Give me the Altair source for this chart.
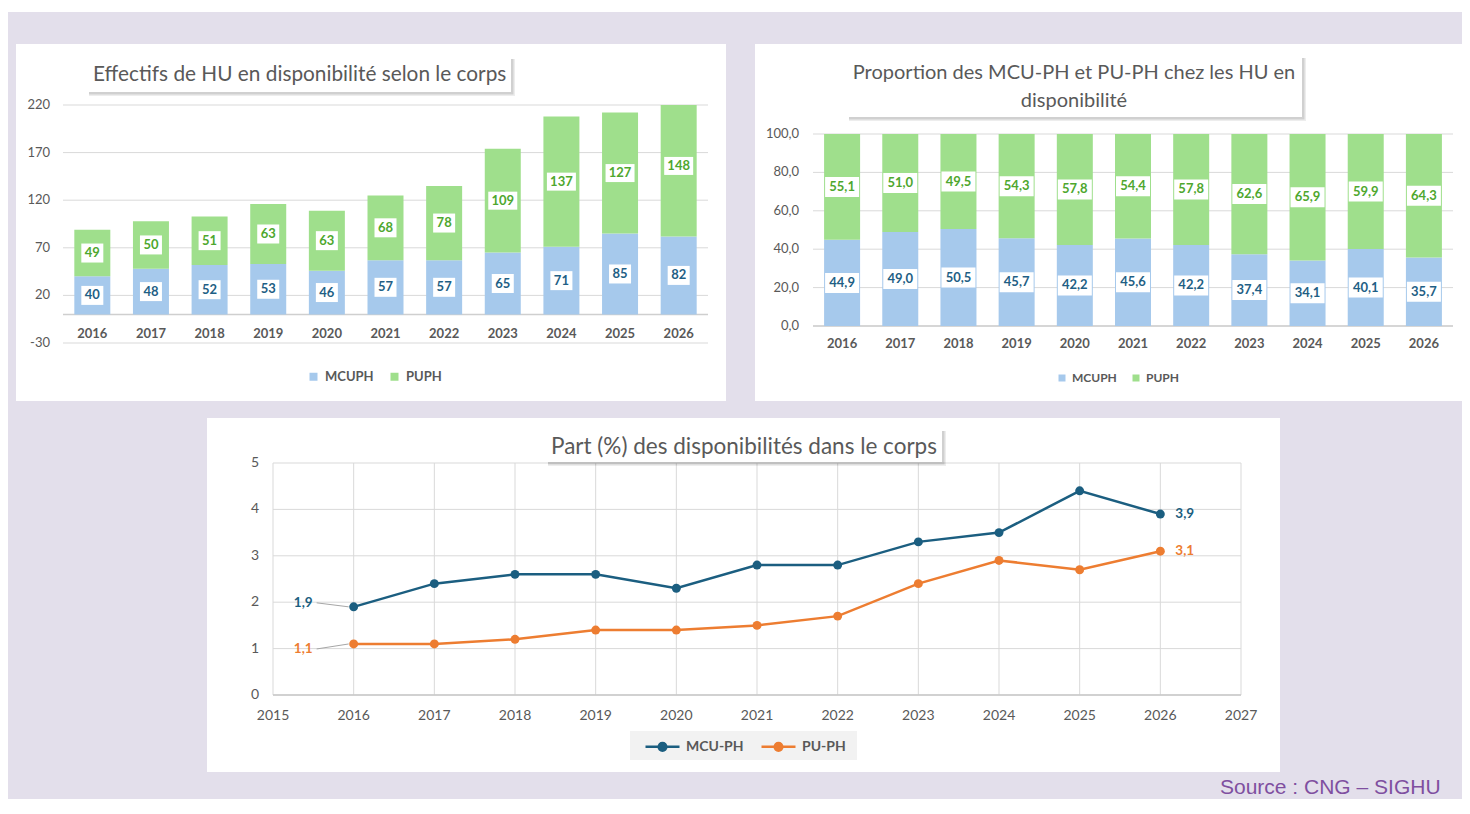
import altair as alt
import pandas as pd

# ---------------- data ----------------
years = [2016, 2017, 2018, 2019, 2020, 2021, 2022, 2023, 2024, 2025, 2026]
mcuph_effectif = [40, 48, 52, 53, 46, 57, 57, 65, 71, 85, 82]
puph_effectif = [49, 50, 51, 63, 63, 68, 78, 109, 137, 127, 148]
mcuph_pct = [44.9, 49.0, 50.5, 45.7, 42.2, 45.6, 42.2, 37.4, 34.1, 40.1, 35.7]
puph_pct = [55.1, 51.0, 49.5, 54.3, 57.8, 54.4, 57.8, 62.6, 65.9, 59.9, 64.3]
mcuph_part = [1.9, 2.4, 2.6, 2.6, 2.3, 2.8, 2.8, 3.3, 3.5, 4.4, 3.9]
puph_part = [1.1, 1.1, 1.2, 1.4, 1.4, 1.5, 1.7, 2.4, 2.9, 2.7, 3.1]
series_bar = ["MCUPH", "PUPH"]
series_line = ["MCU-PH", "PU-PH"]
ticks_a = [-30, 20, 70, 120, 170, 220]
ticks_b = [0, 20, 40, 60, 80, 100]
ticks_c_y = [0, 1, 2, 3, 4, 5]
ticks_c_x = [2015, 2016, 2017, 2018, 2019, 2020, 2021, 2022, 2023, 2024, 2025, 2026, 2027]
title_a = "Effectifs de HU en disponibilité selon le corps"
title_b = ["Proportion des MCU-PH et PU-PH chez les HU en", "disponibilité"]
title_c = "Part (%) des disponibilités dans le corps"
source_text = "Source : CNG – SIGHU"

# ---------------- style ----------------
FONT = "Lato"
GRAY = "#595959"
GRID = "#d9d9d9"
LAV = "#e3dfeb"
BLUE_BAR = "#a6c9ec"
GREEN_BAR = "#9fdf8c"
BLUE_TXT = "#1f5f85"
GREEN_TXT = "#4ea72e"
MCU_LINE = "#1b5e80"
PU_LINE = "#ed7d31"
W, H = 1454, 791


def fr1(v):
    return f"{v:.1f}".replace(".", ",")


def stacked(a, b, fmt):
    rows = []
    for y, va, vb in zip(years, a, b):
        rows.append(dict(year=y, series=series_bar[0], val=va, mid=va / 2, label=fmt(va)))
        rows.append(dict(year=y, series=series_bar[1], val=vb, mid=va + vb / 2, label=fmt(vb)))
    return pd.DataFrame(rows)


_one = pd.DataFrame({"k": [0]})


def rect(x1, y1, x2, y2, color, opacity=1.0):
    return alt.Chart(_one).mark_rect(color=color, opacity=opacity).encode(
        x=alt.value(x1), x2=alt.value(x2), y=alt.value(y1), y2=alt.value(y2))


def text(txt, x, y, size, color, align="left", weight="normal", font=FONT):
    return alt.Chart(_one).mark_text(text=txt, align=align, baseline="middle", fontSize=size,
                                     color=color, fontWeight=weight, font=font).encode(
        x=alt.value(x), y=alt.value(y))


def title_box(x1, y1, x2, y2):
    return [rect(x1 + 1, y1 + 1, x2 + 4, y2 + 4, "#000000", 0.07),
            rect(x1 + 1, y1 + 1, x2 + 2.5, y2 + 2.5, "#000000", 0.12),
            rect(x1, y1, x2, y2, "white")]


def bar_panel(df, xdom, xrange, ydom, yrange, ticks, tick_labels, ylab_dx, year_dy,
              boxes, legend, clamp=False):
    xs = alt.Scale(domain=xdom, range=xrange, nice=False, zero=False, padding=0)
    ys = alt.Scale(domain=ydom, range=yrange, nice=False, zero=False, clamp=clamp, padding=0)
    X = alt.X("year:Q", scale=xs, axis=None)
    layers = []
    layers.append(alt.Chart(pd.DataFrame({"v": ticks})).mark_rule(color=GRID, strokeWidth=1).encode(
        x=alt.XDatum(xdom[0], scale=xs, axis=None), x2=alt.X2Datum(xdom[1]),
        y=alt.Y("v:Q", scale=ys, axis=None)))
    layers.append(alt.Chart(_one).mark_rule(color="#cfcfcf", strokeWidth=1.5).encode(
        x=alt.XDatum(xdom[0], scale=xs, axis=None), x2=alt.X2Datum(xdom[1]),
        y=alt.YDatum(0, scale=ys, axis=None)))
    layers.append(alt.Chart(df).mark_bar(size=36).encode(
        x=X,
        y=alt.Y("val:Q", scale=ys, axis=None, stack="zero"),
        color=alt.Color("series:N", scale=alt.Scale(domain=series_bar, range=[BLUE_BAR, GREEN_BAR]),
                        legend=legend),
        order=alt.Order("series:N", sort="ascending")))
    for expr, w, h in boxes:
        layers.append(alt.Chart(df).transform_filter(expr).mark_rect(
            color="white", xOffset=-w / 2, x2Offset=w / 2, yOffset=-h / 2, y2Offset=h / 2).encode(
            x=X, x2=alt.X2("year"), y=alt.Y("mid:Q", scale=ys, axis=None), y2=alt.Y2("mid")))
    for s, c in zip(series_bar, [BLUE_TXT, GREEN_TXT]):
        layers.append(alt.Chart(df).transform_filter(alt.datum.series == s).mark_text(
            font=FONT, fontSize=13, fontWeight="bold", color=c, baseline="middle").encode(
            x=X, y=alt.Y("mid:Q", scale=ys, axis=None), text="label:N"))
    layers.append(alt.Chart(pd.DataFrame({"year": years})).mark_text(
        font=FONT, fontSize=13, fontWeight="bold", color=GRAY, dy=year_dy, baseline="middle").encode(
        x=X, y=alt.YDatum(0, scale=ys, axis=None), text="year:N"))
    layers.append(alt.Chart(pd.DataFrame({"v": ticks, "t": tick_labels})).mark_text(
        font=FONT, fontSize=13, color=GRAY, align="right", baseline="middle", dx=ylab_dx).encode(
        x=alt.XDatum(xdom[0], scale=xs, axis=None), y=alt.Y("v:Q", scale=ys, axis=None), text="t:N"))
    return alt.layer(*layers)


# ---------------- panel A ----------------
df_a = stacked(mcuph_effectif, puph_effectif, lambda v: str(v))
leg_a = alt.Legend(orient="none", legendX=299, legendY=362, direction="horizontal", title=None,
                   symbolType="square", symbolSize=64, symbolStrokeWidth=0, labelFont=FONT,
                   labelFontSize=13, labelFontWeight="bold", labelColor=GRAY, columnPadding=14,
                   labelOffset=5, padding=0)
panel_a = bar_panel(df_a, [2015.5, 2026.5], [55, 700], [-30, 220], [335, 97], ticks_a,
                    [str(t) for t in ticks_a], -13, 20,
                    [("length(datum.label) <= 2", 22, 19), ("length(datum.label) > 2", 29, 18)],
                    leg_a, clamp=True)

# ---------------- panel B ----------------
df_b = stacked(mcuph_pct, puph_pct, fr1)
leg_b = alt.Legend(orient="none", legendX=1048, legendY=364, direction="horizontal", title=None,
                   symbolType="square", symbolSize=49, symbolStrokeWidth=0, labelFont=FONT,
                   labelFontSize=12, labelFontWeight="bold", labelColor=GRAY, columnPadding=13,
                   labelOffset=4, padding=0)
panel_b = bar_panel(df_b, [2015.5, 2026.5], [805, 1445], [0, 100], [318, 126], ticks_b,
                    [fr1(t) for t in ticks_b], -14, 18,
                    [("true", 34, 20)], leg_b)

# ---------------- panel C ----------------
part = pd.DataFrame({
    "year": years * 2,
    "series": [series_line[0]] * len(years) + [series_line[1]] * len(years),
    "val": mcuph_part + puph_part,
})
part["label"] = part["val"].map(fr1)
xc = alt.Scale(domain=[2015, 2027], range=[265, 1233], nice=False, zero=False, padding=0)
yc = alt.Scale(domain=[0, 5], range=[687, 455], nice=False, zero=False, padding=0)
XC = alt.X("year:Q", scale=xc, axis=None)
YC = alt.Y("val:Q", scale=yc, axis=None)
cscale = alt.Scale(domain=series_line, range=[MCU_LINE, PU_LINE])
LEG_PATH = ("M-1,0L1,0"
            "M-0.224,0a0.224,0.224 0 1,0 0.448,0a0.224,0.224 0 1,0 -0.448,0"
            "M-0.076,0a0.076,0.076 0 1,0 0.152,0a0.076,0.076 0 1,0 -0.152,0")
leg_c = alt.Legend(orient="none", legendX=636, legendY=720, direction="horizontal", title=None,
                   symbolType=LEG_PATH, symbolSize=1156, symbolStrokeWidth=2.5, labelFont=FONT,
                   labelFontSize=14, labelFontWeight="bold", labelColor=GRAY, columnPadding=12,
                   labelOffset=5, padding=0)

c_layers = []
c_layers.append(alt.Chart(pd.DataFrame({"v": ticks_c_y})).mark_rule(color=GRID, strokeWidth=1).encode(
    x=alt.XDatum(2015, scale=xc, axis=None), x2=alt.X2Datum(2027), y=alt.Y("v:Q", scale=yc, axis=None)))
c_layers.append(alt.Chart(pd.DataFrame({"v": ticks_c_x})).mark_rule(color=GRID, strokeWidth=1).encode(
    y=alt.YDatum(0, scale=yc, axis=None), y2=alt.Y2Datum(5), x=alt.X("v:Q", scale=xc, axis=None)))
c_layers.append(alt.Chart(_one).mark_rule(color="#c8c8c8", strokeWidth=1.5).encode(
    x=alt.XDatum(2015, scale=xc, axis=None), x2=alt.X2Datum(2027), y=alt.YDatum(0, scale=yc, axis=None)))
c_layers.append(alt.Chart(pd.DataFrame({"v": ticks_c_x})).mark_text(
    font=FONT, fontSize=14, color=GRAY, dy=21, baseline="middle").encode(
    x=alt.X("v:Q", scale=xc, axis=None), y=alt.YDatum(0, scale=yc, axis=None), text="v:N"))
c_layers.append(alt.Chart(pd.DataFrame({"v": ticks_c_y})).mark_text(
    font=FONT, fontSize=14, color=GRAY, dx=-14, align="right", baseline="middle").encode(
    x=alt.XDatum(2015, scale=xc, axis=None), y=alt.Y("v:Q", scale=yc, axis=None), text="v:N"))
c_layers.append(alt.Chart(part).mark_line(strokeWidth=2.5).encode(
    x=XC, y=YC, color=alt.Color("series:N", scale=cscale, legend=leg_c)))
c_layers.append(alt.Chart(part).mark_point(filled=True, size=80, opacity=1).encode(
    x=XC, y=YC, color=alt.Color("series:N", scale=cscale, legend=leg_c)))
# data labels: first and last points
for s, c, dy, ldy in zip(series_line, [MCU_LINE, PU_LINE], [-4, 5], [-4, 5]):
    first = f"datum.series == '{s}' && datum.year == {years[0]}"
    last = f"datum.series == '{s}' && datum.year == {years[-1]}"
    c_layers.append(alt.Chart(part).transform_filter(first).mark_rule(
        color="#a6a6a6", strokeWidth=1, xOffset=-5, x2Offset=-37, yOffset=0, y2Offset=ldy).encode(
        x=XC, x2=alt.X2("year"), y=YC, y2=alt.Y2("val")))
    c_layers.append(alt.Chart(part).transform_filter(first).mark_text(
        font=FONT, fontSize=13.5, fontWeight="bold", color=c, align="right", baseline="middle",
        dx=-41, dy=dy).encode(x=XC, y=YC, text="label:N"))
    c_layers.append(alt.Chart(part).transform_filter(last).mark_text(
        font=FONT, fontSize=13.5, fontWeight="bold", color=c, align="left", baseline="middle",
        dx=15).encode(x=XC, y=YC, text="label:N"))
panel_c = alt.layer(*c_layers)

# ---------------- assemble ----------------
layers = [
    rect(0, 4, W, H, LAV),
    rect(8, 36, 718, 393, "white"),
    rect(747, 36, W, 393, "white"),
    rect(199, 410, 1272, 764, "white"),
    rect(622, 723, 849, 752, "#f2f2f2"),
    panel_a, panel_b, panel_c,
]
layers += title_box(80, 50, 503, 84)
layers.append(text(title_a, 85, 67, 20.8, GRAY))
layers += title_box(840, 49, 1294, 109)
layers.append(text(title_b[0], 1066, 65, 20, GRAY, align="center"))
layers.append(text(title_b[1], 1066, 93, 20, GRAY, align="center"))
layers += title_box(539, 422, 934, 454)
layers.append(text(title_c, 543, 439, 22.5, GRAY))
layers.append(text(source_text, 1212, 780, 21, "#7f4fa0", font="Liberation Sans"))

chart = alt.layer(*layers).resolve_scale(
    x="independent", y="independent", color="independent"
).properties(
    width=W, height=H, padding=0, autosize=alt.AutoSizeParams(type="none")
).configure(background="white").configure_view(stroke=None)

chart.save("out.html", embed_options={"renderer": "svg", "actions": False})
